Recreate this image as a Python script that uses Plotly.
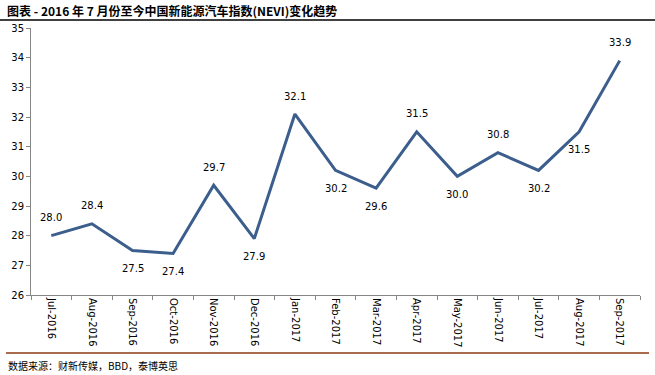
import plotly.graph_objects as go

months = ["Jul-2016", "Aug-2016", "Sep-2016", "Oct-2016", "Nov-2016", "Dec-2016",
          "Jan-2017", "Feb-2017", "Mar-2017", "Apr-2017", "May-2017", "Jun-2017",
          "Jul-2017", "Aug-2017", "Sep-2017"]
nevi = [28.0, 28.4, 27.5, 27.4, 29.7, 27.9, 32.1, 30.2, 29.6, 31.5, 30.0, 30.8, 30.2, 31.5, 33.9]
label_side = ["above", "above", "below", "below", "above", "below", "above", "below",
              "below", "above", "below", "above", "below", "below", "above"]
yticks = list(range(26, 36))

W, H = 655, 375
ml, mr, mt, mb = 31, 15, 28, 80
pw, ph = W - ml - mr, H - mt - mb

def px(x):
    return (x - ml) / pw

def py(y):
    return (H - mb - y) / ph

fig = go.Figure()
fig.add_trace(go.Scatter(
    x=months, y=nevi, mode="lines",
    line=dict(color="#3B5E8C", width=3),
    hoverinfo="skip", showlegend=False,
))

annotations = []
for m, v, s in zip(months, nevi, label_side):
    annotations.append(dict(
        x=m, y=v, xref="x", yref="y", text=f"{v:.1f}", showarrow=False,
        yshift=18 if s == "above" else -18, xanchor="center", yanchor="middle",
        font=dict(family="DejaVu Sans", size=10, color="#000000"),
    ))

annotations += [
    dict(text="<b>图表 - 2016 年 7 月份至今中国新能源汽车指数(NEVI)变化趋势</b>",
         xref="paper", yref="paper", x=px(5), y=py(10), xanchor="left", yanchor="middle",
         showarrow=False, font=dict(family="Noto Sans CJK SC", size=12, color="#000000")),
    dict(text="数据来源：财新传媒，BBD，泰博英思",
         xref="paper", yref="paper", x=px(6), y=py(365), xanchor="left", yanchor="middle",
         showarrow=False, font=dict(family="Noto Sans CJK SC", size=10, color="#000000")),
]

fig.update_layout(
    width=W, height=H,
    margin=dict(l=ml, r=mr, t=mt, b=mb, autoexpand=False),
    paper_bgcolor="white", plot_bgcolor="white",
    xaxis=dict(
        type="category", range=[-0.5, len(months) - 0.5], automargin=False,
        tickangle=90, tickfont=dict(family="DejaVu Sans", size=10, color="#000000"),
        showline=True, linecolor="#868686", linewidth=1,
        ticks="outside", ticklen=4, tickcolor="#868686", tickson="boundaries",
        showgrid=False, zeroline=False, fixedrange=True,
    ),
    yaxis=dict(
        range=[26, 35], tickvals=yticks, automargin=False,
        tickfont=dict(family="DejaVu Sans", size=10, color="#000000"),
        showline=True, linecolor="#868686", linewidth=1,
        ticks="outside", ticklen=4, tickcolor="#868686",
        showgrid=False, zeroline=False, fixedrange=True,
    ),
    shapes=[
        dict(type="line", xref="paper", yref="paper", x0=px(0), x1=px(W), y0=py(20), y1=py(20),
             line=dict(color="#000000", width=1.5)),
        dict(type="line", xref="paper", yref="paper", x0=px(6), x1=px(649), y0=py(353), y1=py(353),
             line=dict(color="#8B3A12", width=1.5)),
    ],
    annotations=annotations,
)

fig.write_html(
    "out.html",
    config={"displayModeBar": False},
    post_script="document.body.style.margin='0';document.body.style.padding='0';",
)
